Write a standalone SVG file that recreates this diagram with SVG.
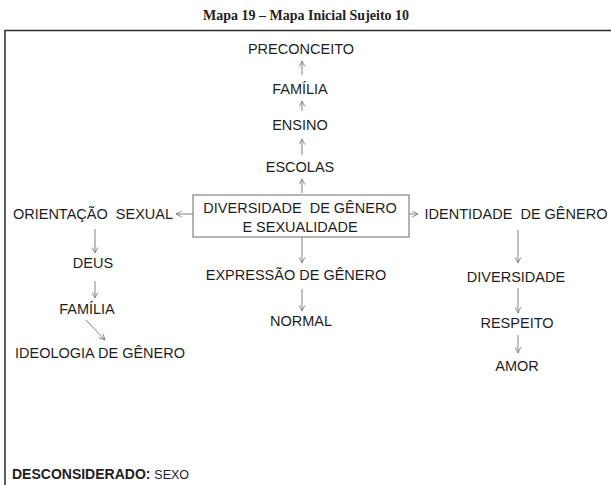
<svg xmlns="http://www.w3.org/2000/svg" width="611" height="485" viewBox="0 0 611 485">
<style>
.t{font-family:"Liberation Sans",Arial,sans-serif;font-size:14.5px;fill:#1e1e1e;text-anchor:middle}
.c{stroke:#808080;stroke-width:1;fill:none;marker-end:url(#ah)}
</style>
<defs>
<marker id="ah" viewBox="0 0 10 10" refX="9" refY="5" markerWidth="7" markerHeight="7" orient="auto" markerUnits="userSpaceOnUse">
<path d="M1,1 L9,5 L1,9" fill="none" stroke="#808080" stroke-width="1.3"/>
</marker>
</defs>
<rect width="611" height="485" fill="#fff"/>
<text x="306" y="20" font-family="'Liberation Serif','Times New Roman',serif" font-weight="bold" font-size="14" fill="#222" text-anchor="middle">Mapa 19 – Mapa Inicial Sujeito 10</text>
<path d="M611,30.5 H5 V485" fill="none" stroke="#2a2a2a" stroke-width="1.5"/>

<g id="center"><rect x="193" y="195" width="216" height="42" fill="#fff" stroke="#6a6a6a" stroke-width="1"/>
<text class="t" x="300" y="213" xml:space="preserve">DIVERSIDADE  DE GÊNERO</text>
<text class="t" x="300" y="232">E SEXUALIDADE</text></g>
<g id="preconceito"><text class="t" x="301" y="54">PRECONCEITO</text></g>
<g id="familia1"><text class="t" x="300" y="94">FAMÍLIA</text></g>
<g id="ensino"><text class="t" x="300" y="130">ENSINO</text></g>
<g id="escolas"><text class="t" x="300" y="172">ESCOLAS</text></g>
<g id="orientacao"><text class="t" x="93" y="219" xml:space="preserve">ORIENTAÇÃO  SEXUAL</text></g>
<g id="deus"><text class="t" x="93" y="268">DEUS</text></g>
<g id="familia2"><text class="t" x="87" y="314">FAMÍLIA</text></g>
<g id="ideologia"><text class="t" x="100" y="358">IDEOLOGIA DE GÊNERO</text></g>
<g id="expressao"><text class="t" x="296" y="280">EXPRESSÃO DE GÊNERO</text></g>
<g id="normal"><text class="t" x="301" y="326">NORMAL</text></g>
<g id="identidade"><text class="t" x="516" y="219" xml:space="preserve">IDENTIDADE  DE GÊNERO</text></g>
<g id="diversidade"><text class="t" x="516" y="282">DIVERSIDADE</text></g>
<g id="respeito"><text class="t" x="517" y="328">RESPEITO</text></g>
<g id="amor"><text class="t" x="517" y="371">AMOR</text></g>
<g id="desconsiderado"><text x="12" y="479" font-family="'Liberation Sans',Arial,sans-serif" font-size="14" font-weight="bold" fill="#1e1e1e">DESCONSIDERADO: <tspan font-weight="normal" font-size="12.5">SEXO</tspan></text></g>

<g id="connectors">
<path class="c" d="M302,75 V61"/>
<path class="c" d="M302,111 V101"/>
<path class="c" d="M302,155 V139"/>
<path class="c" d="M302,193 V179"/>
<path class="c" d="M193,214 H176"/>
<path class="c" d="M409,214 H418"/>
<path class="c" d="M302,237 V263"/>
<path class="c" d="M302,289 V311"/>
<path class="c" d="M95,229 V253"/>
<path class="c" d="M95,281 V298"/>
<path class="c" d="M86,320 L105,340"/>
<path class="c" d="M518,230 V263"/>
<path class="c" d="M518,288 V313"/>
<path class="c" d="M518,335 V353"/>
</g>
</svg>
